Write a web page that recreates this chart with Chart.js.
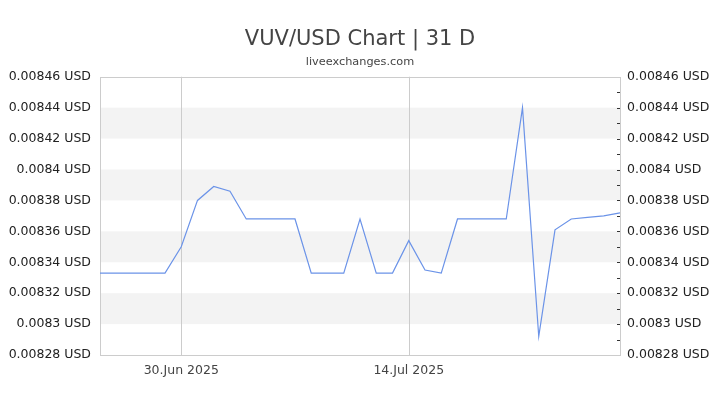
<!DOCTYPE html>
<html>
<head>
<meta charset="utf-8">
<script src="https://cdn.jsdelivr.net/npm/chart.js@4/dist/chart.umd.min.js"></script>
<style>
  html, body { margin: 0; padding: 0; background: #fff; }
  #wrap { width: 720px; height: 405px; }
</style>
</head>
<body>
<div id="wrap"><canvas id="rateChart"></canvas></div>
<script>
// daily VUV/USD closes, 25 Jun - 27 Jul 2025
const dates = [
    "2025-06-25", "2025-06-26", "2025-06-27", "2025-06-28", "2025-06-29",
    "2025-06-30", "2025-07-01", "2025-07-02", "2025-07-03", "2025-07-04",
    "2025-07-05", "2025-07-06", "2025-07-07", "2025-07-08", "2025-07-09",
    "2025-07-10", "2025-07-11", "2025-07-12", "2025-07-13", "2025-07-14",
    "2025-07-15", "2025-07-16", "2025-07-17", "2025-07-18", "2025-07-19",
    "2025-07-20", "2025-07-21", "2025-07-22", "2025-07-23", "2025-07-24",
    "2025-07-25", "2025-07-26", "2025-07-27"
];
const rates = [
    0.008333, 0.008333, 0.008333, 0.008333, 0.008333,
    0.008350, 0.008380, 0.008389, 0.008386, 0.008368,
    0.008368, 0.008368, 0.008368, 0.008333, 0.008333,
    0.008333, 0.008368, 0.008333, 0.008333, 0.008354,
    0.008335, 0.008333, 0.008368, 0.008368, 0.008368,
    0.008368, 0.008440, 0.008292, 0.008361, 0.008368,
    0.008369, 0.008370, 0.008372
];
const tickDates = ["2025-06-30", "2025-07-14"];
const tickLabels = ["30.Jun 2025", "14.Jul 2025"];
const yMin = 0.00828;
const yMax = 0.00846;
const yStep = 0.00002;
const minorStep = 0.00001;
// shaded bands [from, to]
const bands = [
    [0.00830, 0.00832],
    [0.00834, 0.00836],
    [0.00838, 0.00840],
    [0.00842, 0.00844]
];

function fmtUsd(v) {
    return parseFloat(v.toFixed(5)).toString() + " USD";
}

const frame = {
    id: "frame",
    beforeDatasetsDraw(chart) {
        const { ctx, chartArea: a, scales } = chart;
        const y = scales.y;
        ctx.save();
        ctx.fillStyle = "#f3f3f3";
        bands.forEach(b => {
            const top = y.getPixelForValue(b[1]);
            const bot = y.getPixelForValue(b[0]);
            ctx.fillRect(a.left, top, a.right - a.left, bot - top);
        });
        // vertical grid at labelled dates
        ctx.strokeStyle = "#cccccc";
        ctx.lineWidth = 1;
        tickDates.forEach(d => {
            const x = Math.round(scales.x.getPixelForValue(dates.indexOf(d))) + 0.5;
            ctx.beginPath();
            ctx.moveTo(x, a.top);
            ctx.lineTo(x, a.bottom);
            ctx.stroke();
        });
        ctx.strokeRect(Math.round(a.left) + 0.5, Math.round(a.top) + 0.5,
            Math.round(a.right - a.left), Math.round(a.bottom - a.top));
        // minor ticks on right edge
        ctx.strokeStyle = "#333333";
        for (let v = yMin + minorStep; v < yMax - minorStep / 2; v += minorStep) {
            const py = Math.round(y.getPixelForValue(v)) + 0.5;
            ctx.beginPath();
            ctx.moveTo(a.right - 3, py);
            ctx.lineTo(a.right, py);
            ctx.stroke();
        }
        ctx.restore();
    }
};

const yTicks = {
    stepSize: yStep,
    color: "#222222",
    font: { family: "DejaVu Sans", size: 12.5 },
    callback: v => fmtUsd(v)
};

const ctx = document.getElementById("rateChart").getContext("2d");
const rateChart = new Chart(ctx, {
    type: "line",
    data: {
        labels: dates,
        datasets: [{
            label: "VUV/USD",
            data: rates,
            borderColor: "#6b93e8",
            borderWidth: 1.2,
            pointRadius: 0,
            tension: 0,
            yAxisID: "y"
        }]
    },
    plugins: [frame],
    options: {
        responsive: true,
        maintainAspectRatio: false,
        animation: false,
        layout: { padding: { left: 0, right: 0, top: 0, bottom: 0 } },
        plugins: {
            legend: { display: false },
            tooltip: { enabled: false },
            title: {
                display: true,
                text: "VUV/USD Chart | 31 D",
                color: "#444444",
                font: { family: "DejaVu Sans", size: 21, weight: "normal" },
                padding: { top: 27, bottom: 3 }
            },
            subtitle: {
                display: true,
                text: "liveexchanges.com",
                color: "#444444",
                font: { family: "DejaVu Sans", size: 11.3 },
                padding: { top: 0, bottom: 8 }
            }
        },
        scales: {
            x: {
                offset: false,
                grid: { display: false, drawTicks: false },
                border: { display: false },
                afterFit: s => { s.height = 50; },
                ticks: {
                    autoSkip: false,
                    maxRotation: 0,
                    padding: 8,
                    color: "#444444",
                    font: { family: "DejaVu Sans", size: 12.5 },
                    callback: (v, i) => {
                        const k = tickDates.indexOf(dates[i]);
                        return k >= 0 ? tickLabels[k] : null;
                    }
                }
            },
            y: {
                position: "left",
                min: yMin,
                max: yMax,
                grid: { display: false, drawTicks: false },
                border: { display: false },
                afterFit: s => { s.width = 100; },
                ticks: Object.assign({ padding: 9 }, yTicks)
            },
            y2: {
                position: "right",
                min: yMin,
                max: yMax,
                grid: { display: false, drawTicks: false },
                border: { display: false },
                afterFit: s => { s.width = 100; },
                ticks: Object.assign({ padding: 7 }, yTicks)
            }
        }
    }
});
</script>
</body>
</html>
